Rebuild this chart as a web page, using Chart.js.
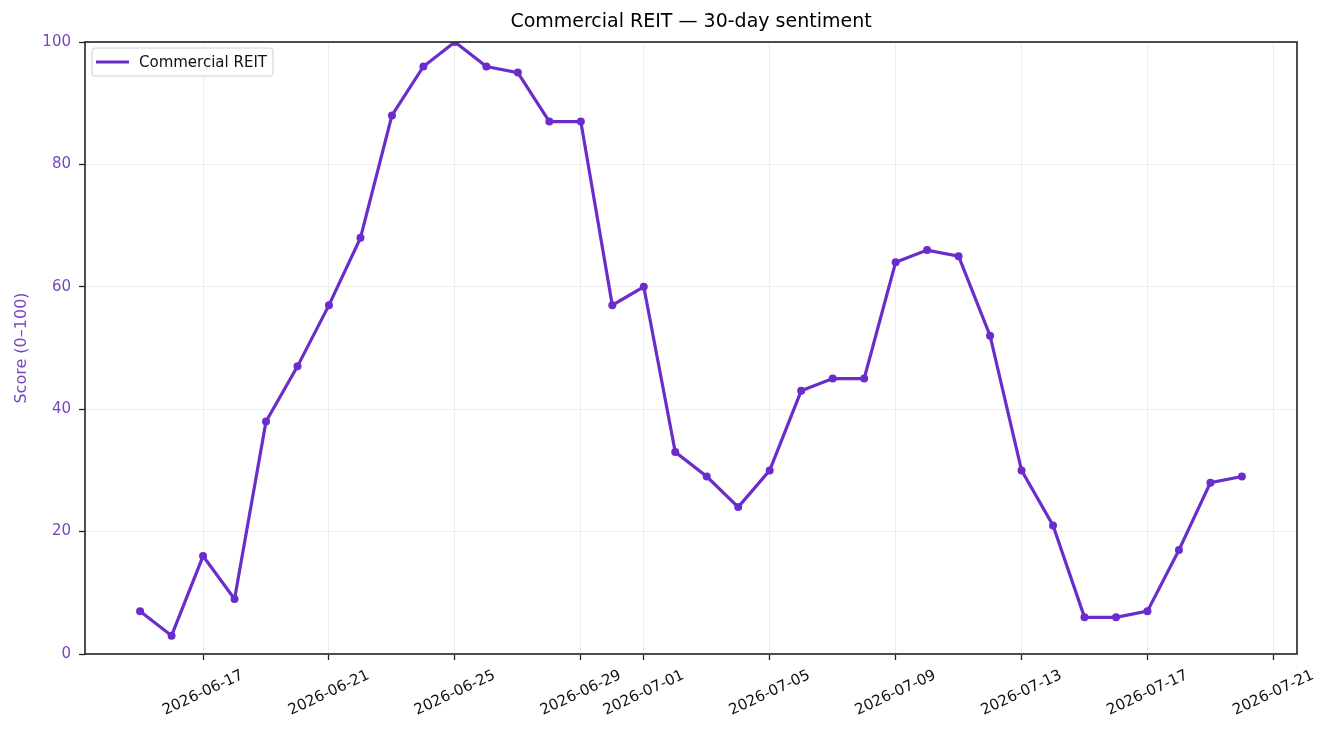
<!DOCTYPE html>
<html>
<head>
<meta charset="utf-8">
<script src="https://cdn.jsdelivr.net/npm/chart.js@4"></script>
<style>
  html, body { margin: 0; padding: 0; background: #fff; }
  #wrap { width: 1331px; height: 735px; }
</style>
</head>
<body>
<div id="wrap"><canvas id="chart" width="1331" height="735"></canvas></div>
<script>
// Data
const dates = [
  "2026-06-15", "2026-06-16", "2026-06-17", "2026-06-18", "2026-06-19", "2026-06-20",
  "2026-06-21", "2026-06-22", "2026-06-23", "2026-06-24", "2026-06-25", "2026-06-26",
  "2026-06-27", "2026-06-28", "2026-06-29", "2026-06-30", "2026-07-01", "2026-07-02",
  "2026-07-03", "2026-07-04", "2026-07-05", "2026-07-06", "2026-07-07", "2026-07-08",
  "2026-07-09", "2026-07-10", "2026-07-11", "2026-07-12", "2026-07-13", "2026-07-14",
  "2026-07-15", "2026-07-16", "2026-07-17", "2026-07-18", "2026-07-19", "2026-07-20"
];
const scores = [
  7, 3, 16, 9, 38, 47,
  57, 68, 88, 96, 100, 96,
  95, 87, 87, 57, 60, 33,
  29, 24, 30, 43, 45, 45,
  64, 66, 65, 52, 30, 21,
  6, 6, 7, 17, 28, 29
];
const xTickLabels = [
  "2026-06-17", "2026-06-21", "2026-06-25", "2026-06-29", "2026-07-01",
  "2026-07-05", "2026-07-09", "2026-07-13", "2026-07-17", "2026-07-21"
];
const yTicks = [0, 20, 40, 60, 80, 100];
const seriesName = "Commercial REIT";

const lineColor = '#6a2dcc';
const labelPurple = '#7a45bf';
const DAY = 86400000;
const t0 = Date.parse(dates[0]);
const dayOf = s => (Date.parse(s) - t0) / DAY;

const points = dates.map((d, i) => ({ x: dayOf(d), y: scores[i] }));
const span = dayOf(dates[dates.length - 1]);
const margin = span * 0.05;

// frame, title, centred rotated date labels and legend box
const framePlugin = {
  id: 'frame',
  afterDraw(chart) {
    const { ctx, chartArea: a } = chart;
    ctx.save();
    ctx.strokeStyle = '#222';
    ctx.lineWidth = 1.6;
    ctx.strokeRect(a.left, a.top, a.right - a.left, a.bottom - a.top);

    ctx.fillStyle = '#000';
    ctx.font = '19px "DejaVu Sans"';
    ctx.textAlign = 'center';
    ctx.textBaseline = 'middle';
    ctx.fillText('Commercial REIT \u2014 30-day sentiment', (a.left + a.right) / 2, 22);

    // x tick labels, rotated about their centre
    const xs = chart.scales.x;
    ctx.font = '15px "DejaVu Sans"';
    ctx.fillStyle = '#111';
    xTickLabels.forEach(lbl => {
      const px = xs.getPixelForValue(dayOf(lbl));
      ctx.save();
      ctx.translate(px, a.bottom + 39);
      ctx.rotate(-25 * Math.PI / 180);
      ctx.fillText(lbl, 0, 0);
      ctx.restore();
    });

    // legend
    const lx = a.left + 7, ly = a.top + 6;
    ctx.font = '15px "DejaVu Sans"';
    const w = ctx.measureText(seriesName).width + 53;
    ctx.fillStyle = 'rgba(255,255,255,0.85)';
    ctx.strokeStyle = '#d0d0d0';
    ctx.lineWidth = 1;
    ctx.beginPath();
    ctx.roundRect(lx, ly, w, 28, 3);
    ctx.fill();
    ctx.stroke();
    ctx.strokeStyle = lineColor;
    ctx.lineWidth = 3;
    ctx.beginPath();
    ctx.moveTo(lx + 4, ly + 14);
    ctx.lineTo(lx + 37, ly + 14);
    ctx.stroke();
    ctx.fillStyle = '#111';
    ctx.textAlign = 'left';
    ctx.fillText(seriesName, lx + 47, ly + 15);
    ctx.restore();
  }
};

const gridStyle = {
  color: '#ededed',
  borderDash: [1.5, 3],
  tickColor: '#222',
  tickLength: 6,
  tickBorderDash: [],
  tickWidth: 1.3
};

new Chart(document.getElementById('chart'), {
  type: 'line',
  data: {
    datasets: [{
      label: seriesName,
      data: points,
      borderColor: lineColor,
      backgroundColor: lineColor,
      borderWidth: 3.2,
      pointRadius: 4,
      pointBackgroundColor: lineColor,
      pointBorderWidth: 0,
      tension: 0
    }]
  },
  options: {
    responsive: false,
    animation: false,
    layout: { padding: { top: 42, right: 34, left: 0, bottom: 0 } },
    plugins: {
      legend: { display: false },
      title: { display: false },
      tooltip: { enabled: false }
    },
    scales: {
      x: {
        type: 'linear',
        min: -margin,
        max: span + margin,
        afterFit(scale) { scale.height = 81; },
        afterBuildTicks(scale) {
          scale.ticks = xTickLabels.map(d => ({ value: dayOf(d) }));
        },
        ticks: { display: false, autoSkip: false },
        grid: gridStyle,
        border: { display: false }
      },
      y: {
        min: 0,
        max: 100,
        afterFit(scale) { scale.width = 85; },
        afterBuildTicks(scale) {
          scale.ticks = yTicks.map(v => ({ value: v }));
        },
        title: {
          display: true,
          text: 'Score (0\u2013100)',
          color: labelPurple,
          font: { family: 'DejaVu Sans', size: 16 },
          padding: { top: 12, bottom: 0 }
        },
        ticks: {
          color: labelPurple,
          padding: 8,
          font: { family: 'DejaVu Sans', size: 15 }
        },
        grid: gridStyle,
        border: { display: false }
      }
    }
  },
  plugins: [framePlugin]
});
</script>
</body>
</html>
